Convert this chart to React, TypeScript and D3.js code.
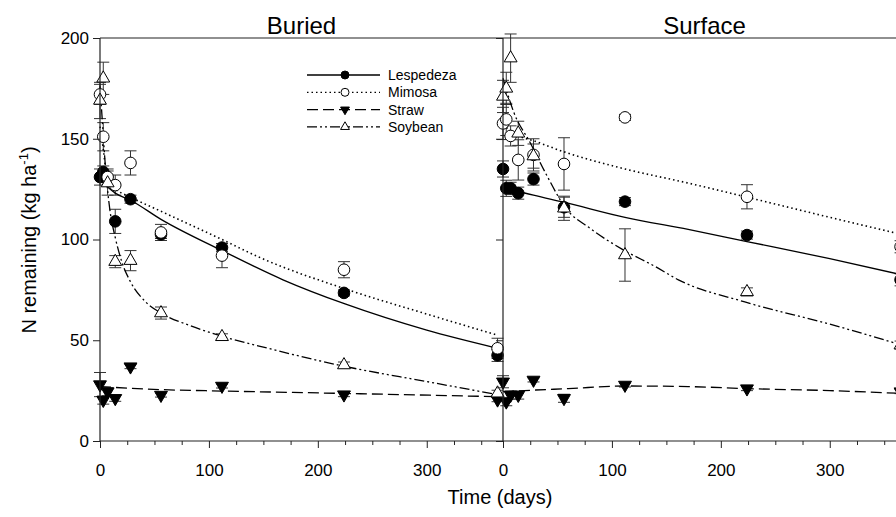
import React, { useEffect, useRef } from "react";
import * as d3 from "d3";

const width = 896;
const height = 517;
const frame = { top: 38, bottom: 441, left: 100, mid: 503, right: 906 };

const days = [0, 3, 7, 14, 28, 56, 112, 224, 365];
const xTicks = [0, 100, 200, 300];
const xMinorTicks = [25, 50, 75, 125, 150, 175, 225, 250, 275, 325, 350];
const yTicks = [0, 50, 100, 150, 200];
const seriesNames = ["Lespedeza", "Mimosa", "Straw", "Soybean"];

// Buried panel, measured points and error bars
const buriedLespedeza = [131, 133.5, null, 109, 120, 102.5, 96, 73.5, 42.5];
const buriedLespedezaErr = [4, 3, 0, 6, 2, 2, 2, 1.5, 3];
const buriedMimosa = [172, 151, 131, 127, 138, 103.5, 92, 85, 46];
const buriedMimosaErr = [5, 7, 4, 5, 6, 4, 6, 4, 5];
const buriedStraw = [28, 20.3, 24.5, 21.2, 36.9, 22.8, 27.3, 23, 20.5];
const buriedStrawErr = [6, 2, 2, 1.5, 1, 1, 1, 1, 1];
const buriedSoybean = [169, 180, 128, 89, 89.5, 63.5, 51.7, 37.7, 23.7];
const buriedSoybeanErr = [9, 8, 6, 3, 5, 3, 1.5, 1.5, 1.5];

// Buried panel, fitted curves [day, N]
const buriedLespedezaFit = [[0, 131], [3, 128], [7, 126], [14, 123], [28, 119.5], [56, 110], [112, 94.5], [168, 80], [225, 68], [300, 55], [365, 46]];
const buriedMimosaFit = [[0, 156], [3, 145], [5, 136], [8, 128], [14, 125], [28, 121], [56, 114], [112, 100], [147, 91], [225, 75.5], [300, 63], [365, 52.5]];
const buriedStrawFit = [[0, 27], [56, 25.5], [112, 24.8], [225, 23.6], [365, 22]];
const buriedSoybeanFit = [[0, 176], [2, 160], [5, 136], [9, 115], [14, 101], [20, 89], [28, 79], [42, 69], [56, 63.5], [84, 57], [112, 52], [147, 47], [225, 37], [300, 29.5], [365, 23]];

// Surface panel
const surfaceLespedeza = [135, 125.4, 125.4, 123, 130, 116, 118.8, 102.2, 80];
const surfaceLespedezaErr = [4, 4, 3, 3, 3, 5, 2, 2, 3];
const surfaceMimosa = [157.6, 159.6, 151.4, 139.5, 142, 137.5, 160.6, 121.2, 96.4];
const surfaceMimosaErr = [8, 8, 5, 10, 8, 13, 1.5, 6, 3];
const surfaceStraw = [29.4, 19.5, 22.8, 22.8, 30.3, 21.2, 27.8, 26, 24.5];
const surfaceStrawErr = [3, 2, 2, 2, 1, 2, 1, 1, 1];
const surfaceSoybean = [171, 175, 190, 152.7, 141.4, 115.5, 92.3, 74, 47.6];
const surfaceSoybeanErr = [8, 8, 12, 6, 6, 6, 13, 2, 2];

const surfaceLespedezaFit = [[0, 126], [28, 122], [56, 118.5], [112, 111], [170, 105], [224, 99], [300, 90.5], [370, 82]];
const surfaceMimosaFit = [[0, 157], [7, 154], [14, 151.5], [28, 149], [56, 143.5], [112, 135], [170, 128], [224, 121], [300, 111], [370, 102]];
const surfaceStrawFit = [[0, 24.5], [30, 25.3], [60, 26], [112, 27.3], [170, 27], [224, 26], [300, 25], [370, 23.5]];
const surfaceSoybeanFit = [[0, 180], [10, 163], [25, 148], [40, 132], [57, 116], [80, 105.5], [110, 95], [140, 86.5], [161, 80], [222, 69], [300, 58], [370, 47]];

const styles = {
  Lespedeza: { dash: null, marker: "circle", fill: "#000" },
  Mimosa: { dash: "1.5,3", marker: "circle", fill: "#fff" },
  Straw: { dash: "11,5", marker: "down", fill: "#000" },
  Soybean: { dash: "10,3,2,3,2,3", marker: "up", fill: "#fff" }
};

const tickFont = "'Liberation Sans Narrow', 'Arial Narrow', 'Liberation Sans', Arial, sans-serif";
const labelFont = "'Liberation Sans', Arial, sans-serif";

const y = d3.scaleLinear().domain([0, 200]).range([frame.bottom, frame.top]);
const xBuried = d3.scaleLinear().domain([0, 370]).range([frame.left, frame.mid]);
const xSurface = d3.scaleLinear().domain([0, 370]).range([frame.mid, frame.right]);

const triangle = d3.symbol(d3.symbolTriangle, 72)();
const smallTriangle = d3.symbol(d3.symbolTriangle, 34)();

function Marker({ type, fill, x, yy, small }) {
  const r = small ? 4 : 5.8;
  if (type === "circle") {
    return <circle cx={x} cy={yy} r={r} fill={fill} stroke="#000" strokeWidth={1} />;
  }
  const rot = type === "down" ? 180 : 0;
  return (
    <path
      d={small ? smallTriangle : triangle}
      transform={`translate(${x},${yy}) rotate(${rot})`}
      fill={fill}
      stroke="#000"
      strokeWidth={1}
    />
  );
}

function Panel({ x, title, series }) {
  const line = d3
    .line()
    .x((d) => x(d[0]))
    .y((d) => y(d[1]))
    .curve(d3.curveMonotoneX);
  const order = ["Straw", "Lespedeza", "Mimosa", "Soybean"];
  return (
    <g>
      <text
        x={(x.range()[0] + x.range()[1]) / 2}
        y={34}
        textAnchor="middle"
        fontFamily={labelFont}
        fontSize={24}
      >
        {title}
      </text>
      {/* error bars */}
      {order.map((name) =>
        series[name].values.map((v, i) =>
          v == null || !series[name].err[i] ? null : (
            <g key={name + i} stroke="#333" strokeWidth={1}>
              <line x1={x(days[i])} x2={x(days[i])} y1={y(v - series[name].err[i])} y2={y(v + series[name].err[i])} />
              <line x1={x(days[i]) - 6} x2={x(days[i]) + 6} y1={y(v - series[name].err[i])} y2={y(v - series[name].err[i])} />
              <line x1={x(days[i]) - 6} x2={x(days[i]) + 6} y1={y(v + series[name].err[i])} y2={y(v + series[name].err[i])} />
            </g>
          )
        )
      )}
      {/* fitted curves */}
      {order.map((name) => (
        <path
          key={name}
          d={line(series[name].fit)}
          fill="none"
          stroke="#000"
          strokeWidth={name === "Mimosa" ? 1.6 : 1.3}
          strokeDasharray={styles[name].dash || undefined}
        />
      ))}
      {order.map((name) =>
        series[name].values.map((v, i) =>
          v == null ? null : (
            <Marker key={name + i} type={styles[name].marker} fill={styles[name].fill} x={x(days[i])} yy={y(v)} />
          )
        )
      )}
    </g>
  );
}

export default function App() {
  const axesRef = useRef(null);

  useEffect(() => {
    const g = d3.select(axesRef.current);
    g.selectAll("*").remove();

    const yLeft = g.append("g").attr("transform", `translate(${frame.left},0)`)
      .call(d3.axisLeft(y).tickValues(yTicks).tickSize(7).tickPadding(4).tickSizeOuter(0));
    const yMid = g.append("g").attr("transform", `translate(${frame.mid},0)`)
      .call(d3.axisLeft(y).tickValues(yTicks).tickSize(7).tickFormat(() => "").tickSizeOuter(0));

    const xAxes = [];
    [xBuried, xSurface].forEach((sc) => {
      xAxes.push(
        g.append("g").attr("transform", `translate(0,${frame.bottom})`)
          .call(d3.axisBottom(sc).tickValues(xTicks).tickSize(7).tickPadding(16).tickSizeOuter(0))
      );
      xAxes.push(
        g.append("g").attr("transform", `translate(0,${frame.bottom})`)
          .call(d3.axisBottom(sc).tickValues(xMinorTicks).tickSize(4).tickFormat(() => "").tickSizeOuter(0))
      );
    });

    [yLeft, yMid, ...xAxes].forEach((a) => {
      a.select(".domain").remove();
      a.selectAll(".tick line").attr("stroke", "#222");
      a.selectAll(".tick text")
        .attr("fill", "#000")
        .style("font-family", tickFont)
        .style("font-size", "17px");
    });
  }, []);

  const buried = {
    Lespedeza: { values: buriedLespedeza, err: buriedLespedezaErr, fit: buriedLespedezaFit },
    Mimosa: { values: buriedMimosa, err: buriedMimosaErr, fit: buriedMimosaFit },
    Straw: { values: buriedStraw, err: buriedStrawErr, fit: buriedStrawFit },
    Soybean: { values: buriedSoybean, err: buriedSoybeanErr, fit: buriedSoybeanFit }
  };
  const surface = {
    Lespedeza: { values: surfaceLespedeza, err: surfaceLespedezaErr, fit: surfaceLespedezaFit },
    Mimosa: { values: surfaceMimosa, err: surfaceMimosaErr, fit: surfaceMimosaFit },
    Straw: { values: surfaceStraw, err: surfaceStrawErr, fit: surfaceStrawFit },
    Soybean: { values: surfaceSoybean, err: surfaceSoybeanErr, fit: surfaceSoybeanFit }
  };

  const legendX = 307;
  const legendY = 75;
  const legendStep = 17.3;

  return (
    <svg width={width} height={height} style={{ position: "absolute", left: 0, top: 0, background: "#fff" }}>
      <rect width={width} height={height} fill="#fff" />
      <Panel x={xBuried} title="Buried" series={buried} />
      <Panel x={xSurface} title="Surface" series={surface} />

      {/* frame */}
      <g stroke="#222" strokeWidth={1.2}>
        <line x1={frame.left} x2={width} y1={frame.top} y2={frame.top} />
        <line x1={frame.left} x2={width} y1={frame.bottom} y2={frame.bottom} />
        <line x1={frame.left} x2={frame.left} y1={frame.top} y2={frame.bottom} />
        <line x1={frame.mid} x2={frame.mid} y1={frame.top} y2={frame.bottom} />
      </g>
      <g ref={axesRef} />

      {/* legend */}
      {seriesNames.map((name, i) => (
        <g key={name} transform={`translate(0,${legendY + i * legendStep})`}>
          <line x1={legendX} x2={legendX + 73} y1={0} y2={0} stroke="#000" strokeWidth={1.3} strokeDasharray={styles[name].dash || undefined} />
          <Marker type={styles[name].marker} fill={styles[name].fill} x={legendX + 38} yy={0} small />
          <text x={legendX + 81} y={5} fontFamily={labelFont} fontSize={14}>
            {name}
          </text>
        </g>
      ))}

      <text x={500} y={504} textAnchor="middle" fontFamily={labelFont} fontSize={20}>
        Time (days)
      </text>
      <text transform="translate(36,240) rotate(-90)" textAnchor="middle" fontFamily={labelFont} fontSize={20}>
        N remaining (kg ha
        <tspan fontSize={13} dy={-8}>-1</tspan>
        <tspan dy={8}>)</tspan>
      </text>
    </svg>
  );
}
